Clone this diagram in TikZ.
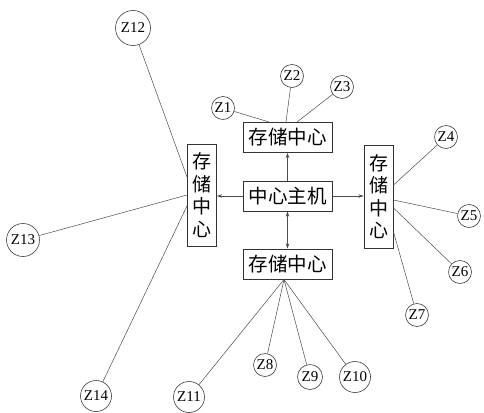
\documentclass[tikz,border=0pt]{standalone}
\usepackage{fontspec}
\setmainfont{Liberation Serif}
\newfontfamily\cjk{Noto Sans CJK SC}
\usetikzlibrary{arrows.meta,calc}
\begin{document}
\begin{tikzpicture}[x=1pt,y=-1pt,
  hbox/.style={draw=black!80,line width=1pt,minimum width=89pt,minimum height=30pt,inner sep=0pt,font=\cjk\fontsize{19.5}{21}\selectfont},
  vbox/.style={draw=black!80,line width=1pt,minimum width=29pt,minimum height=102pt,inner sep=0pt,align=center,font=\cjk\fontsize{19}{22.5}\selectfont},
  zs/.style={circle,draw=black!75,line width=0.6pt,minimum size=23pt,inner sep=0pt,font=\fontsize{15}{16}\selectfont},
  zb/.style={zs,minimum size=31pt},
  link/.style={draw=black!70,line width=0.5pt},
  arr/.style={draw=black!70,line width=0.6pt,-{Stealth[length=5pt,width=3.5pt]}},
  darr/.style={draw=black!70,line width=0.6pt,{Stealth[length=5pt,width=3.5pt]}-{Stealth[length=5pt,width=3.5pt]}}]
\useasboundingbox (0,0) rectangle (484,412);
\fill[white] (0,0) rectangle (484,412);
% boxes
\node[hbox] (host) at (287.5,196) {中心主机};
\node[hbox] (top) at (287.5,137.5) {存储中心};
\node[hbox] (bot) at (287.5,264) {存储中心};
\node[vbox] (left) at (202,195) {存\\储\\中\\心};
\node[vbox,minimum height=103pt] (right) at (378.5,196.5) {存\\储\\中\\心};
% arrows
\draw[arr] (host.north) -- (top.south);
\draw[arr] (host.west) -- (left.east |- host.west);
\draw[arr] (host.east) -- (right.west |- host.east);
\draw[darr] (host.south) -- (bot.north);
% circles
\node[zs] (z1) at (223,108) {Z1};
\node[zs] (z2) at (292,76) {Z2};
\node[zs] (z3) at (342,87) {Z3};
\node[zs] (z4) at (446,137) {Z4};
\node[zs] (z5) at (469,216) {Z5};
\node[zs] (z6) at (460,272) {Z6};
\node[zs] (z7) at (417,315) {Z7};
\node[zs] (z8) at (265,365) {Z8};
\node[zs,minimum size=25pt] (z9) at (310,377) {Z9};
\node[zb] (z10) at (355,377) {Z10};
\node[zb] (z11) at (189,397) {Z11};
\node[zb,minimum size=35pt] (z12) at (133,28) {Z12};
\node[zb,minimum size=33pt] (z13) at (23,240) {Z13};
\node[zb] (z14) at (96,396) {Z14};
% attachment points
\coordinate (t1) at ($(top.north)+(-18.5,0)$);
\coordinate (t2) at ($(top.north)+(-1.5,0)$);
\coordinate (t3) at ($(top.north)+(9.5,0)$);
\coordinate (b0) at ($(bot.south)+(-3.5,0)$);
\coordinate (r4) at ($(right.east)+(0,-11.5)$);
\coordinate (r5) at ($(right.east)+(0,3.5)$);
\coordinate (r6) at ($(right.east)+(0,11.5)$);
\coordinate (r7) at ($(right.east)+(0,35.5)$);
\coordinate (l12) at ($(left.west)+(0,-18)$);
\coordinate (l13) at ($(left.west)+(0,0)$);
\coordinate (l14) at ($(left.west)+(0,11)$);
% links
\draw[link] (z1) -- (t1);
\draw[link] (z2) -- (t2);
\draw[link] (z3) -- (t3);
\draw[link] (z4) -- (r4);
\draw[link] (z5) -- (r5);
\draw[link] (z6) -- (r6);
\draw[link] (z7) -- (r7);
\draw[link] (z8) -- (b0);
\draw[link] (z9) -- (b0);
\draw[link] (z10) -- (b0);
\draw[link] (z11) -- (b0);
\draw[link] (z12) -- (l12);
\draw[link] (z13) -- (l13);
\draw[link] (z14) -- (l14);
\end{tikzpicture}
\end{document}
